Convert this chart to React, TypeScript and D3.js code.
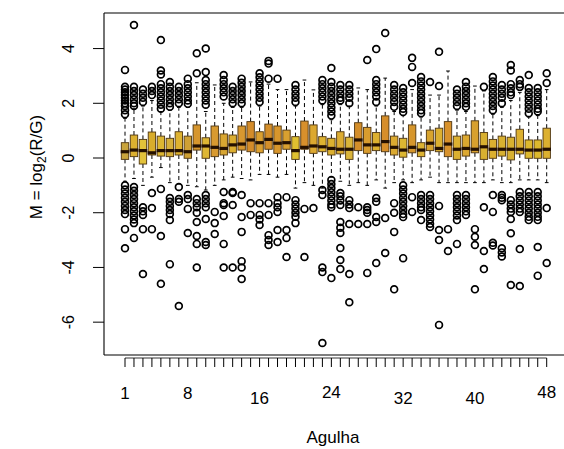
import React from "react";
import * as d3 from "d3";

const needles = d3.range(1, 49);
const q1 = [-0.05,0.05,-0.22,0.11,0.07,0.05,0.11,-0.01,0.29,-0.01,0.05,0.11,0.19,0.29,0.23,0.19,0.32,0.17,0.32,-0.05,0.32,0.17,0.23,0.11,0.15,-0.05,0.27,0.17,0.27,0.23,0.11,0.03,0.19,0.05,0.27,0.23,0.05,-0.05,0.07,0.19,-0.05,-0.01,0.07,-0.07,0.15,-0.01,-0.01,-0.01];
const medians = [0.23,0.29,0.27,0.19,0.27,0.27,0.27,0.23,0.44,0.44,0.39,0.35,0.48,0.51,0.66,0.56,0.68,0.54,0.56,0.27,0.39,0.44,0.41,0.35,0.32,0.32,0.66,0.48,0.48,0.60,0.39,0.29,0.39,0.29,0.54,0.35,0.51,0.32,0.35,0.32,0.41,0.32,0.32,0.32,0.32,0.29,0.29,0.32];
const q3 = [0.56,0.84,0.68,0.95,0.80,0.72,0.96,0.80,1.21,0.74,1.17,0.88,0.84,1.17,1.33,0.96,1.24,1.17,1.02,0.78,1.35,1.21,0.78,0.72,0.96,0.76,1.29,1.12,0.93,1.54,0.80,0.72,1.21,0.56,1.02,1.09,1.33,0.80,0.84,1.36,0.93,0.68,0.80,0.76,1.05,0.66,0.66,1.09];
const whiskerLow = [-0.85,-0.75,-1.0,-0.7,-0.35,-0.9,-0.95,-1.0,-1.05,-1.17,-1.0,-0.8,-0.7,-0.75,-0.8,-0.6,-0.6,-0.7,-0.6,-1.1,-0.9,-1.0,-1.1,-0.7,-0.85,-1.0,-0.9,-1.0,-0.8,-1.1,-0.9,-0.8,-0.9,-0.8,-0.7,-0.9,-0.9,-0.9,-0.9,-0.9,-0.9,-0.8,-0.9,-0.9,-0.8,-0.8,-0.8,-0.9];
const whiskerHigh = [1.45,1.8,1.9,2.1,1.7,1.75,1.85,1.85,2.75,1.7,2.67,2.0,1.85,1.85,2.78,1.9,2.7,2.5,2.5,1.9,2.85,2.49,1.95,1.4,1.95,1.9,2.56,2.5,1.9,2.92,1.7,1.55,2.5,1.5,2.3,2.3,3.18,1.75,1.7,2.63,2.45,1.6,1.85,2.1,2.4,1.5,1.55,2.5];
const outliers: number[][] = [
  [3.22,2.6,2.5,2.4,2.3,2.2,2.1,2.0,1.9,1.75,1.6,-1.0,-1.15,-1.3,-1.45,-1.6,-1.75,-1.9,-2.05,-2.6,-3.3],
  [4.86,2.6,2.45,2.3,2.15,2.0,1.9,-1.06,-1.2,-1.35,-1.5,-1.65,-1.8,-1.95,-2.1,-2.25,-2.38,-2.92],
  [2.5,2.35,2.2,2.05,-1.8,-1.95,-2.08,-2.6,-4.24],
  [2.6,2.45,2.3,-1.28,-1.83,-2.6],
  [4.31,3.2,3.05,2.7,2.55,2.4,2.25,2.1,1.95,1.8,-1.13,-2.85,-4.6],
  [2.78,2.6,2.45,2.3,2.15,2.0,1.87,-1.46,-1.6,-1.75,-1.9,-2.05,-2.27,-3.88],
  [2.6,2.45,2.3,2.15,2.0,-1.06,-1.5,-1.6,-5.41],
  [2.9,2.7,2.55,2.4,2.25,2.1,1.98,-1.35,-1.5,-1.86,-2.74],
  [3.83,3.1,-1.5,-1.65,-1.8,-2.0,-2.34,-2.85,-3.14,-4.0],
  [4.0,3.14,2.85,2.7,2.55,2.4,2.25,2.1,1.95,-1.35,-1.5,-1.65,-1.8,-2.23,-3.07,-3.18],
  [-1.97,-2.38,-2.78],
  [3.03,2.85,2.7,2.55,2.4,2.25,-1.24,-1.65,-1.72,-2.12,-3.14,-4.0],
  [2.6,2.45,2.3,2.15,2.0,-1.24,-1.28,-1.72,-4.0],
  [2.9,2.75,2.6,2.45,2.3,2.15,2.0,-1.35,-2.16,-2.7,-3.77,-4.0,-4.42],
  [-1.65,-2.08],
  [3.1,2.95,2.8,2.65,2.5,2.35,2.2,2.05,-1.65,-2.08,-2.25,-2.45],
  [3.55,3.45,2.9,-1.65,-2.08,-2.82,-3.0,-3.18],
  [2.9,-1.43,-1.65,-1.8,-1.97,-2.63,-3.07],
  [-1.43,-2.63,-2.92,-3.62],
  [2.67,2.5,2.35,2.2,2.05,-1.54,-1.7,-1.85,-2.0,-2.15,-2.38],
  [-1.86,-3.62],
  [-1.83],
  [2.85,2.7,2.55,2.4,2.25,2.1,-1.17,-1.35,-4.0,-4.17,-6.76],
  [3.29,2.78,2.6,2.45,2.3,2.15,2.0,1.85,1.7,1.55,-0.8,-0.95,-1.1,-1.25,-1.4,-1.55,-1.7,-1.8,-4.39],
  [2.67,2.5,2.35,2.2,2.1,-1.28,-1.4,-1.55,-1.72,-2.34,-2.55,-2.74,-3.29,-3.73,-4.06],
  [2.67,2.5,2.35,2.2,2.0,-1.54,-1.7,-1.83,-2.41,-4.24,-5.27],
  [-1.8,-2.41],
  [3.58,-1.8,-1.9,-2.0,-2.41,-4.2],
  [3.98,2.85,2.7,2.55,2.4,2.25,2.05,-1.46,-1.6,-2.16,-2.34,-3.84],
  [4.57,-2.19,-3.47],
  [2.67,2.5,2.35,2.2,2.05,1.87,-1.65,-2.0,-2.7,-4.8],
  [2.56,2.4,2.25,2.1,1.95,1.8,1.68,-1.0,-1.15,-1.3,-1.45,-1.6,-1.75,-1.9,-2.05,-2.16,-3.66],
  [3.66,3.33,2.74,-1.43,-1.97],
  [2.96,2.8,2.65,2.5,2.35,2.2,2.05,1.9,1.75,1.64,-1.35,-1.5,-1.65,-1.8,-1.9,-2.27],
  [2.78,-1.35,-1.5,-1.65,-1.8,-1.95,-2.1,-2.25,-2.4,-2.52],
  [3.88,2.63,-1.75,-2.63,-3.0,-6.1],
  [-2.6,-3.4],
  [2.5,2.35,2.2,2.05,1.9,-1.35,-1.5,-1.65,-1.8,-1.95,-2.1,-2.27,-3.14],
  [2.78,2.6,2.45,2.3,2.15,2.0,1.87,-1.35,-1.5,-1.65,-1.8,-1.95,-2.08],
  [-2.6,-2.88,-3.18,-4.8],
  [2.6,-1.8,-3.4,-4.06],
  [2.96,2.8,2.65,2.5,2.35,2.2,2.05,1.9,1.75,-1.35,-1.97,-3.1,-3.2],
  [2.67,2.5,2.35,2.2,2.0,-1.35,-1.45,-1.54,-3.3,-3.45,-3.6],
  [3.4,3.2,2.7,2.55,2.4,2.3,-1.54,-1.7,-1.85,-1.97,-2.23,-2.75,-4.64],
  [2.85,2.7,2.6,-1.24,-1.4,-1.55,-1.7,-1.85,-1.97,-3.33,-4.68],
  [3.03,2.56,2.4,2.25,2.1,1.95,1.8,1.64,-1.24,-1.4,-1.55,-1.7,-1.85,-2.0,-2.15,-2.27],
  [2.56,2.4,2.25,2.1,1.95,1.8,1.7,-1.24,-1.4,-1.55,-1.7,-1.85,-2.0,-2.15,-2.27,-3.25,-4.3],
  [3.1,2.74,-1.83,-3.84],
];
const boxColors = ["#c9a43c","#dcb030","#e2c23a","#d8ac2c","#dcb632","#d6b03a","#deb230","#cfa034","#d6962e","#deb634","#d89a30","#d8a632","#dcae30","#d89830","#d48c2a","#dca030","#d48e2a","#d8962c","#d8a030","#e0c030","#d8902c","#dca830","#ddb230","#dcb030","#dcac32","#dab43a","#d48e2a","#d89c2e","#dcb030","#d68e2a","#dcaa30","#dcb632","#d6962c","#dcb232","#d8a42e","#dcb030","#d8922c","#dcb030","#dca830","#d8a02e","#d8b030","#dcb030","#d8b030","#d8b030","#dcb030","#ddb82e","#dcb82e","#dcb030"];
const yTicks = [-6, -4, -2, 0, 2, 4];
const xLabels = [1, 8, 16, 24, 32, 40, 48];
const xLabelDy = [0, 0, 5, -1, 5, 5, -1];

export default function App() {
  const W = 564, H = 449;
  const x = d3.scaleLinear().domain([1, 48]).range([125, 546.7]);
  const y = d3.scaleLinear().domain([-7.2, 5.3]).range([355, 13]);
  const bw = 7.4;
  const font = "'Liberation Sans', Arial, sans-serif";
  return (
    <svg width={W} height={H} style={{ position: "absolute", left: 0, top: 0, background: "#fff" }}>
      {/* whiskers */}
      {needles.map((n, i) => {
        const cx = x(n);
        return (
          <g key={"w" + n} stroke="#000" strokeWidth={1} fill="none">
            <line x1={cx} x2={cx} y1={y(q3[i])} y2={y(whiskerHigh[i])} strokeDasharray="4,3" />
            <line x1={cx} x2={cx} y1={y(q1[i])} y2={y(whiskerLow[i])} strokeDasharray="4,3" />
            <line x1={cx - bw / 4} x2={cx + bw / 4} y1={y(whiskerHigh[i])} y2={y(whiskerHigh[i])} />
            <line x1={cx - bw / 4} x2={cx + bw / 4} y1={y(whiskerLow[i])} y2={y(whiskerLow[i])} />
          </g>
        );
      })}
      {/* boxes */}
      {needles.map((n, i) => {
        const cx = x(n);
        return (
          <rect key={"b" + n} x={cx - bw / 2} y={y(q3[i])} width={bw} height={y(q1[i]) - y(q3[i])}
            fill={boxColors[i]} stroke="#4e3510" strokeWidth={0.9} />
        );
      })}
      {/* medians */}
      {needles.map((n, i) => {
        const cx = x(n);
        return (
          <line key={"m" + n} x1={cx - bw / 2 - 0.6} x2={cx + bw / 2 + 0.6} y1={y(medians[i])} y2={y(medians[i])}
            stroke="#241000" strokeWidth={3.2} />
        );
      })}
      {/* outliers */}
      {needles.map((n, i) => (
        <g key={"o" + n} fill="none" stroke="#000" strokeWidth={1.7}>
          {outliers[i].map((v, j) => (
            <circle key={j} cx={x(n)} cy={y(v)} r={3.4} />
          ))}
        </g>
      ))}
      {/* frame */}
      <g stroke="#000" strokeWidth={1.1} fill="none">
        <line x1={104} x2={564} y1={13} y2={13} />
        <line x1={104} x2={564} y1={355} y2={355} />
        <line x1={104} x2={104} y1={13} y2={355} />
      </g>
      {/* y axis */}
      {yTicks.map((t) => (
        <g key={"yt" + t}>
          <line x1={93} x2={104} y1={y(t)} y2={y(t)} stroke="#000" strokeWidth={1} />
          <text transform={`translate(74,${y(t)}) rotate(-90)`} textAnchor="middle" fontFamily={font} fontSize={16} fill="#000">
            {t}
          </text>
        </g>
      ))}
      <text transform={`translate(42,${167}) rotate(-90)`} textAnchor="middle" fontFamily={font} fontSize={17} fill="#000">
        M = log<tspan fontSize={12} dy={4}>2</tspan><tspan dy={-4}>(R/G)</tspan>
      </text>
      {/* x axis */}
      <line x1={x(1)} x2={x(48)} y1={358} y2={358} stroke="#000" strokeWidth={0.8} />
      {needles.map((n) => (
        <line key={"xt" + n} x1={x(n)} x2={x(n)} y1={358} y2={367} stroke="#000" strokeWidth={1} />
      ))}
      {xLabels.map((l, k) => (
        <text key={"xl" + l} x={x(l)} y={399 + xLabelDy[k]} textAnchor="middle" fontFamily={font} fontSize={17} fill="#000">
          {l}
        </text>
      ))}
      <text x={333} y={443} textAnchor="middle" fontFamily={font} fontSize={17} fill="#000">Agulha</text>
    </svg>
  );
}
